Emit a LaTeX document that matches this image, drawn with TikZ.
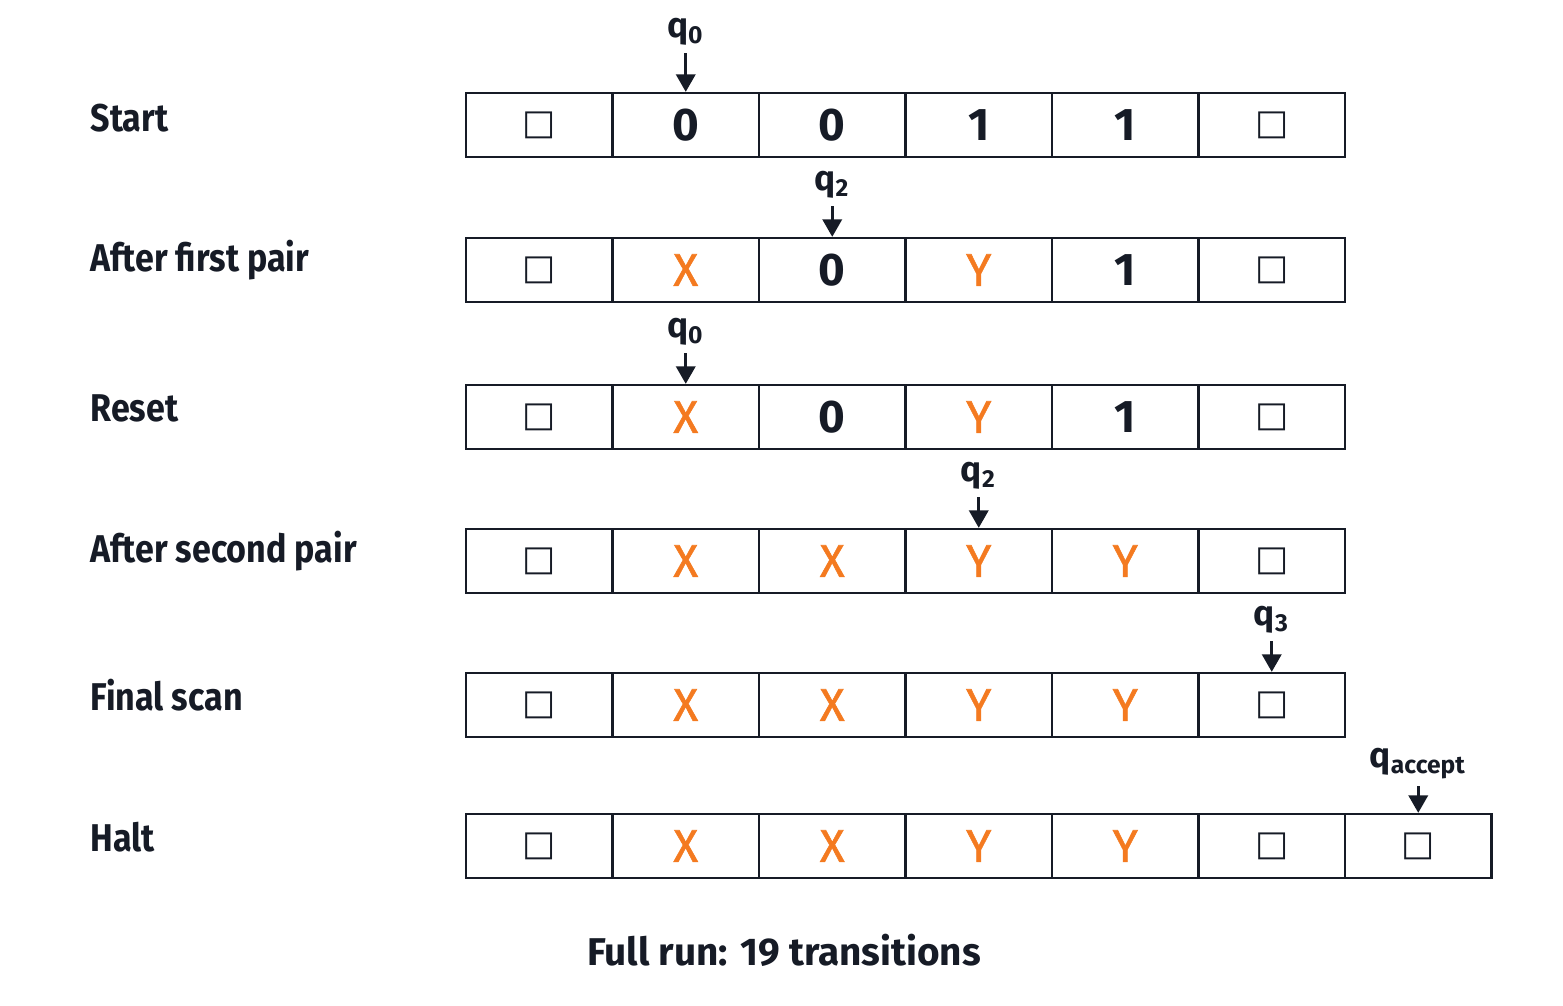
\documentclass[tikz,border=0pt]{standalone}
\usepackage{fontspec}
\setmainfont{Fira Sans}[FakeStretch=0.88]
\newfontfamily\plainfont{Fira Sans}
\newfontfamily\markfont{Fira Sans}[FakeBold=1.2]
\newfontfamily\symfont{DejaVu Sans}
\usetikzlibrary{arrows.meta,positioning}

\definecolor{ink}{HTML}{161B26}
\definecolor{mark}{HTML}{F47A20}
\newcommand{\bl}{{\symfont\bfseries\fontsize{10pt}{10pt}\selectfont □}}
\newcommand{\sX}{\textcolor{mark}{\markfont\mdseries X}}
\newcommand{\sY}{\textcolor{mark}{\markfont\mdseries Y}}

\begin{document}
\begin{tikzpicture}[
    x=0.01cm, y=-0.01cm,
    cell/.style={
        draw=ink, line width=0.65pt,
        minimum width=1.465cm, minimum height=0.64cm,
        inner sep=0pt, text=ink,
        font=\plainfont\fontsize{13pt}{13pt}\selectfont\bfseries
    },
    rowname/.style={
        anchor=west, text=ink, inner sep=0pt,
        font=\fontsize{11pt}{11pt}\selectfont\bfseries
    },
    head/.style={
        text=ink, inner sep=1pt,
        font=\plainfont\fontsize{10pt}{10pt}\selectfont\bfseries
    },
    pointer/.style={
        draw=ink, line width=0.8pt, shorten <=1pt,
        -{Triangle[width=5.5pt,length=5pt]}
    }
]
\useasboundingbox[fill=white] (0,0) rectangle (1563,1006);

% row names
\node[rowname] (n1) at (90,118) {Start};
\node[rowname] (n2) at (90,260) {After first pair};
\node[rowname] (n3) at (90,408) {Reset};
\node[rowname] (n4) at (90,551) {After second pair};
\node[rowname] (n5) at (90,695) {Final scan};
\node[rowname] (n6) at (90,837) {Halt};

% tapes
\foreach \s [count=\i] in {\bl,0,0,1,1,\bl}
    \node[cell] (t1-\i) at ({392.75+146.5*\i},125) {\s};
\foreach \s [count=\i] in {\bl,\sX,0,\sY,1,\bl}
    \node[cell] (t2-\i) at ({392.75+146.5*\i},270) {\s};
\foreach \s [count=\i] in {\bl,\sX,0,\sY,1,\bl}
    \node[cell] (t3-\i) at ({392.75+146.5*\i},417) {\s};
\foreach \s [count=\i] in {\bl,\sX,\sX,\sY,\sY,\bl}
    \node[cell] (t4-\i) at ({392.75+146.5*\i},561) {\s};
\foreach \s [count=\i] in {\bl,\sX,\sX,\sY,\sY,\bl}
    \node[cell] (t5-\i) at ({392.75+146.5*\i},705) {\s};
\foreach \s [count=\i] in {\bl,\sX,\sX,\sY,\sY,\bl,\bl}
    \node[cell] (t6-\i) at ({392.75+146.5*\i},846) {\s};

% head positions
\node[head, above=0.42cm of t1-2] (h1) {q\textsubscript{0}};
\node[head, above=0.34cm of t2-3] (h2) {q\textsubscript{2}};
\node[head, above=0.34cm of t3-2] (h3) {q\textsubscript{0}};
\node[head, above=0.34cm of t4-4] (h4) {q\textsubscript{2}};
\node[head, above=0.34cm of t5-6] (h5) {q\textsubscript{3}};
\node[head, above=0.30cm of t6-7] (h6) {q\textsubscript{accept}};
\foreach \r/\c in {1/2,2/3,3/2,4/4,5/6,6/7}
    \draw[pointer] (h\r) -- (t\r-\c);

\node[text=ink, font=\plainfont\fontsize{11pt}{11pt}\selectfont\bfseries] (total) at (784,950) {Full run: 19 transitions};
\end{tikzpicture}
\end{document}
